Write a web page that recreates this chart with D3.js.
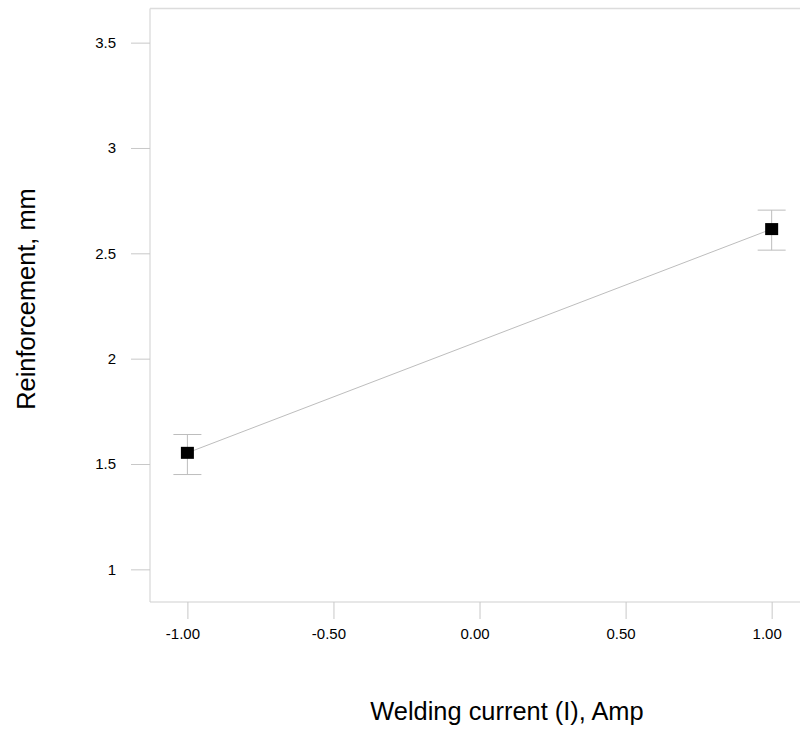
<html>
<head>
<meta charset="utf-8">
<style>
    body { margin: 0; background: #fff; }
    text { font-family: "Liberation Sans", Arial, sans-serif; fill: #000; }
</style>
</head>
<body>
<svg id="chart" width="800" height="732"></svg>
<script src="https://cdn.jsdelivr.net/npm/d3@7"></script>
<script>
    // data
    let xValues = [-1, 1]
    let yValues = [1.553, 2.615]
    let yLow = [1.45, 2.515]
    let yHigh = [1.64, 2.705]
    let xTicks = [-1, -0.5, 0, 0.5, 1]
    let yTicks = [1, 1.5, 2, 2.5, 3, 3.5]

    let svg = d3.select("#chart")
    let plotLeft = 150, plotRight = 800, plotTop = 8.5, plotBottom = 602

    let x = d3.scaleLinear().domain([-1.128, 1.097]).range([plotLeft, plotRight])
    let y = d3.scaleLinear().domain([0.845, 3.662]).range([plotBottom, plotTop])

    // frame
    svg.append("line").attr("x1", plotLeft).attr("x2", plotLeft).attr("y1", plotTop).attr("y2", plotBottom)
        .attr("stroke", "#cfcfcf")
    svg.append("line").attr("x1", plotLeft).attr("x2", plotRight).attr("y1", plotTop).attr("y2", plotTop)
        .attr("stroke", "#dcdcdc").attr("stroke-width", 1.5)
    svg.append("line").attr("x1", plotLeft).attr("x2", plotRight).attr("y1", plotBottom).attr("y2", plotBottom)
        .attr("stroke", "#cfcfcf")

    // y axis
    let yAxis = svg.append("g").attr("transform", "translate(" + plotLeft + ",0)")
        .call(d3.axisLeft(y).tickValues(yTicks).tickSize(19).tickPadding(15).tickFormat(d => String(d)))
    yAxis.select(".domain").remove()
    yAxis.selectAll(".tick line").attr("stroke", "#c8c8c8")
    yAxis.selectAll(".tick text").style("font-size", "15px").attr("fill", "#000")

    // x axis
    let fmt = d3.format(".2f")
    let xAxis = svg.append("g").attr("transform", "translate(0," + plotBottom + ")")
        .call(d3.axisBottom(x).tickValues(xTicks).tickSize(17).tickPadding(9)
            .tickFormat(d => fmt(d).replace("\u2212", "-")))
    xAxis.select(".domain").remove()
    xAxis.selectAll(".tick line").attr("stroke", "#c8c8c8")
    xAxis.selectAll(".tick text").style("font-size", "15px").attr("fill", "#000").attr("dx", -5)

    // connecting line
    let pts = xValues.map((d, i) => [d, yValues[i]])
    svg.append("path").datum(pts)
        .attr("d", d3.line().x(d => x(d[0])).y(d => y(d[1])))
        .attr("stroke", "#bdbdbd").attr("fill", "none").attr("stroke-width", 1)

    // error bars
    let err = svg.append("g")
    xValues.forEach(function (d, i) {
        err.append("line").attr("x1", x(d)).attr("x2", x(d)).attr("y1", y(yLow[i])).attr("y2", y(yHigh[i]))
            .attr("stroke", "#bdbdbd")
        err.append("line").attr("x1", x(d) - 14).attr("x2", x(d) + 14).attr("y1", y(yLow[i])).attr("y2", y(yLow[i]))
            .attr("stroke", "#bdbdbd")
        err.append("line").attr("x1", x(d) - 14).attr("x2", x(d) + 14).attr("y1", y(yHigh[i])).attr("y2", y(yHigh[i]))
            .attr("stroke", "#bdbdbd")
    })

    // markers
    svg.append("g").selectAll("rect").data(pts).enter().append("rect")
        .attr("x", d => x(d[0]) - 6.5).attr("y", d => y(d[1]) - 6)
        .attr("width", 13).attr("height", 12).attr("fill", "#000")

    // titles
    svg.append("text").attr("x", 507).attr("y", 720).attr("text-anchor", "middle")
        .style("font-size", "25.4px").text("Welding current (I), Amp")
    svg.append("text").attr("transform", "translate(35,299) rotate(-90)").attr("text-anchor", "middle")
        .style("font-size", "25.4px").text("Reinforcement, mm")
</script>
</body>
</html>
